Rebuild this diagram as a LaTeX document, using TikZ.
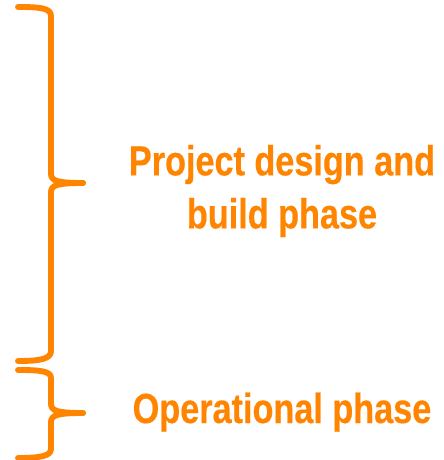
\documentclass[tikz,border=0pt]{standalone}
\usepackage{fontspec}
\newfontfamily\phasefont[FakeStretch=0.815, FakeBold=0.4]{Liberation Sans}
\definecolor{phaseorange}{RGB}{255,132,0}
\tikzset{
  bracestroke/.style={draw=phaseorange, line width=4.4pt, line cap=round, line join=round},
  phaselabel/.style={text=phaseorange, inner sep=0pt, align=center,
    font=\phasefont\bfseries\fontsize{31.5}{39.75}\selectfont}
}
\begin{document}
\begin{tikzpicture}[x=0.75pt, y=-0.75pt]
  \useasboundingbox (0,0) rectangle (443,460);
  % brace ends and tips
  \coordinate (buildtop) at (18,7);
  \coordinate (buildtip) at (83,183);
  \coordinate (buildbot) at (18,361);
  \coordinate (optop) at (18,370);
  \coordinate (optip) at (83,413);
  \coordinate (opbot) at (18,458);
  % labels
  \node[phaselabel] (build) at (282,191) {Project design and\\build phase};
  \node[phaselabel, anchor=base] (op) at (282,423) {Operational phase};
  % design and build brace
  \draw[bracestroke] (buildtop) .. controls (40,7) and (51,8) .. (51,16)
    -- (51,174) .. controls (51,181) and (58,183) .. (buildtip);
  \draw[bracestroke] (buildtip) .. controls (58,183) and (51,185) .. (51,192)
    -- (51,351) .. controls (51,359) and (40,361) .. (buildbot);
  % operational brace
  \draw[bracestroke] (optop) .. controls (40,370) and (51,371) .. (51,378)
    -- (51,404) .. controls (51,411) and (58,413) .. (optip);
  \draw[bracestroke] (optip) .. controls (58,413) and (51,415) .. (51,422)
    -- (51,449) .. controls (51,456) and (40,458) .. (opbot);
\end{tikzpicture}
\end{document}
